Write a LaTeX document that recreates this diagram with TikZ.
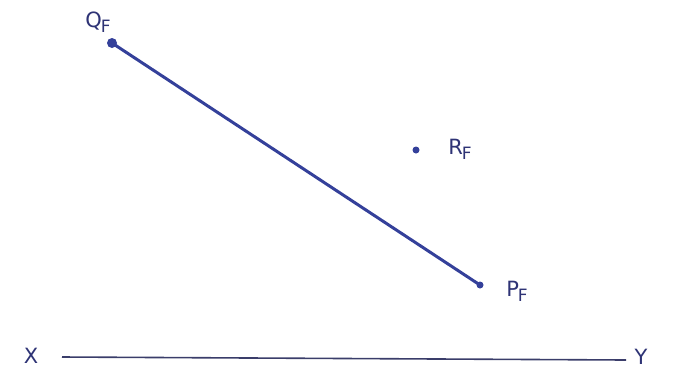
\documentclass[tikz,border=0pt]{standalone}
\usepackage{fontspec}
\setmainfont{DejaVu Sans}
\definecolor{ink}{HTML}{34409A}
\definecolor{pen}{HTML}{2E3375}
\definecolor{base}{HTML}{3A3D6A}
\newcommand{\lowF}{\kern-1pt\raisebox{-5pt}{\fontsize{17}{17}\selectfont F}}
\begin{document}
\begin{tikzpicture}[x=1pt,y=-1pt,
  lbl/.style={text=pen,font=\fontsize{21}{21}\selectfont\addfontfeature{FakeBold=0}\mdseries,inner sep=0pt},
  pt/.style={circle,fill=ink,inner sep=0pt,minimum size=7pt}]
\useasboundingbox (0,0) rectangle (674,381);
\node[pt,minimum size=10pt] (q) at (112,43) {};
\node[pt] (p) at (480,285) {};
\node[pt,minimum size=7pt] (r) at (416,150) {};
\draw[ink,line width=3pt] (q.center) -- (p.center);
\node[lbl] (ql) at (98,22) {Q\lowF};
\node[lbl] (rl) at (460,149) {R\lowF};
\node[lbl] (pl) at (517,291) {P\lowF};
\node[lbl] (x) at (31,356) {X};
\node[lbl] (y) at (641,357) {Y};
\coordinate (xa) at (62,357);
\coordinate (ya) at (626,360);
\draw[base,line width=1.6pt] (xa) -- (ya);
\end{tikzpicture}
\end{document}
